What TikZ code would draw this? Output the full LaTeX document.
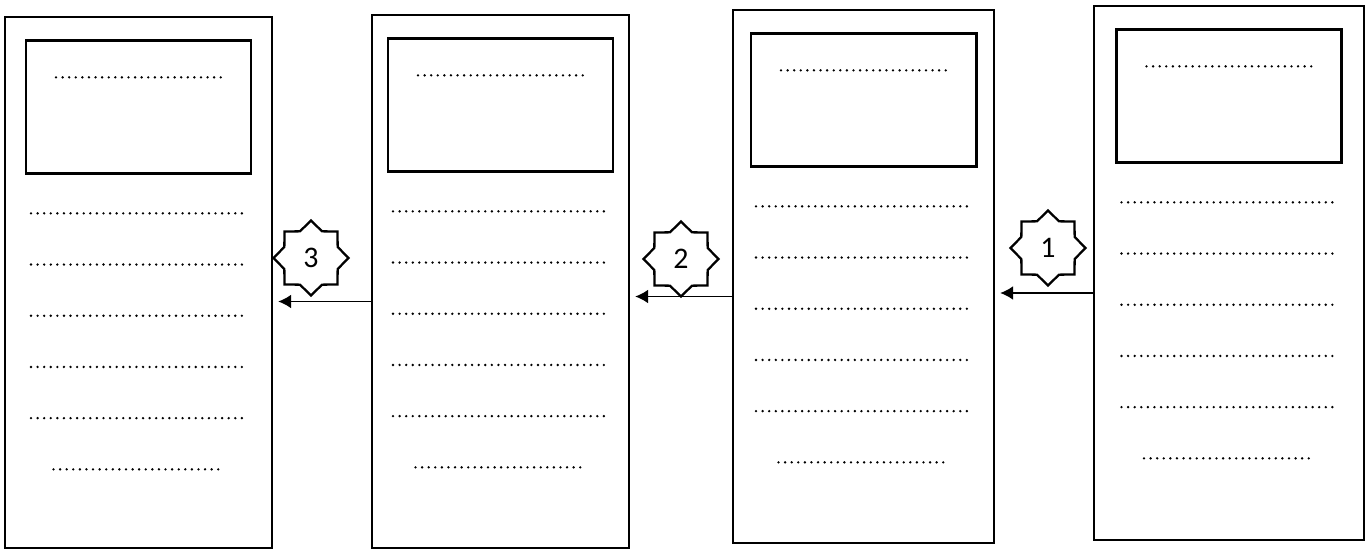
\documentclass[tikz,border=0pt]{standalone}
\usepackage{fontspec}
\setmainfont{Carlito}
\usetikzlibrary{arrows.meta}
\usetikzlibrary{positioning}
\usetikzlibrary{shapes.geometric}
\tikzset{>={Latex[width=2.8mm,length=2.6mm]}}
\tikzset{
  panel/.style={draw, line width=1.3pt, inner sep=0pt},
  headbox/.style={draw, line width=1.7pt, inner sep=0pt,
    minimum width=4.5cm, minimum height=2.66cm},
  dotline/.style={line width=1.5pt, line cap=round, dash pattern=on 0pt off 3.75pt},
  marker/.style={draw, line width=1.3pt, shape=star, star points=8,
    star point ratio=1.3, minimum size=1.5cm, inner sep=0pt,
    font=\fontsize{17}{20}\selectfont},
  flow/.style={->, line width=1.1pt, shorten >=0.1cm}
}

\begin{document}
\begin{tikzpicture}
  \useasboundingbox (0,0) rectangle (27.38,11.02);
  % Draw the four panels
  \node[panel, minimum width=5.34cm, minimum height=10.62cm] (p1) at (2.77,5.37) {};
  \node[panel, minimum width=5.14cm, minimum height=10.66cm] (p2) at (10.01,5.39) {};
  \node[panel, minimum width=5.22cm, minimum height=10.66cm] (p3) at (17.27,5.49) {};
  \node[panel, minimum width=5.40cm, minimum height=10.68cm] (p4) at (24.58,5.56) {};
  % Draw title box and blank lines in each panel
  \foreach \p in {p1,p2,p3,p4} {
    \node[headbox, below=0.47cm of \p.north] (h\p) {};
    \draw[dotline] ([xshift=-1.65cm, yshift=-0.76cm]h\p.north) -- ++(3.3,0);
    \foreach \i in {0,...,4}
      \draw[dotline] ([xshift=-2.15cm, yshift={-3.95cm-\i*1.024cm}]\p.north) -- ++(4.3,0);
    \draw[dotline] ([xshift=-1.7cm, yshift=-9.07cm]\p.north) -- ++(3.4,0); }
  % Draw arrows between panels
    \draw[flow] ([yshift=-0.4cm]p4.west) -- ([yshift=-0.4cm]p4.west -| p3.east);
    \draw[flow] ([yshift=-0.4cm]p3.west) -- ([yshift=-0.4cm]p3.west -| p2.east);
    \draw[flow] ([yshift=-0.4cm]p2.west) -- ([yshift=-0.4cm]p2.west -| p1.east);
  % Draw step markers
    \node[marker] (s1) at (20.96,6.06) {1};
    \node[marker] (s2) at (13.62,5.84) {2};
    \node[marker] (s3) at (6.22,5.86) {3};
\end{tikzpicture}
\end{document}
